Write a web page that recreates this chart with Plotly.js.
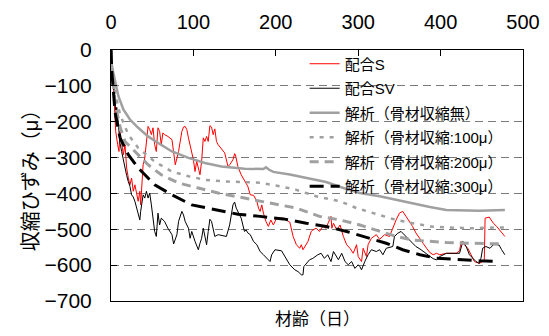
<!DOCTYPE html>
<html><head><meta charset="utf-8">
<script src="https://cdn.plot.ly/plotly-3.0.1.min.js"></script>
<style>html,body{margin:0;padding:0;background:#fff;}#chart{width:549px;height:336px;}</style>
</head><body><div id="chart"></div>
<script>
// 配合S (measured)
const sDay = [0,0.5,1.6,2.8,4,5.7,8.1,9.7,10.9,12.9,15,17,19,21,23,25,27,29,31,33,35,36,38,39,41,43,45,47,49,51,53,55,57,59,61,63,65,69,74,78,80,82,86,88,90,92,94,98,100,102,104,106,108,110,112,114,116,118,120,122,124,126,128,130,138,142,144,148,150,151,154,158,162,166,169,173,177,179,181,183,185,188,191,194,197,201,209,217,221,225,229,231,233,235,239,243,245,249,253,257,261,264,267,268,270,274,278,282,286,290,294,298,300,304,306,310,312,316,322,326,332,338,342,346,350,354,358,362,366,370,375,379,383,387,391,395,399,407,419,423,425,427,429,433,437,441,447,451,453,454,459,464,468,472,476,478];
const sVal = [0,-10,-40,-96,-171,-227,-264,-283,-227,-264,-292,-264,-329,-357,-376,-357,-394,-376,-404,-422,-394,-432,-357,-320,-301,-264,-213,-222,-236,-217,-264,-283,-217,-227,-264,-231,-236,-241,-250,-320,-301,-283,-227,-215,-213,-222,-245,-283,-306,-339,-310,-329,-348,-310,-245,-255,-241,-255,-211,-215,-236,-220,-255,-264,-287,-325,-320,-306,-289,-292,-325,-348,-366,-380,-404,-405,-422,-441,-450,-432,-455,-478,-492,-474,-488,-469,-469,-480,-520,-543,-553,-543,-557,-548,-534,-506,-502,-497,-506,-492,-497,-480,-464,-497,-483,-502,-488,-520,-543,-553,-567,-543,-576,-590,-553,-576,-543,-525,-515,-528,-515,-520,-495,-474,-455,-450,-464,-478,-492,-510,-525,-540,-553,-565,-571,-567,-571,-567,-567,-560,-534,-539,-543,-553,-571,-590,-595,-590,-590,-469,-466,-483,-492,-502,-515,-520];
// 配合SV (measured)
const svDay = [0,1,2.8,4.8,6,7,8.9,11,12.9,15,17,19,21,23,25,27,29,31,33,35,36,38,39,41,43,45,47,49,51,53,55,57,59,61,65,69,74,76,80,82,86,88,90,94,96,98,102,106,108,110,112,114,116,118,120,122,124,126,130,140,144,148,150,152,156,158,160,162,164,166,169,173,177,181,185,189,193,195,199,207,217,223,227,231,233,234,237,239,241,245,251,255,259,263,267,270,272,276,280,284,288,292,296,300,302,304,308,312,316,322,326,330,334,342,344,348,352,356,362,370,375,379,383,387,391,395,399,407,423,427,431,435,439,443,447,449,451,455,460,464,468,471,474,478];
const svVal = [0,-30,-78,-152,-180,-160,-217,-260,-283,-310,-329,-350,-367,-380,-404,-410,-422,-440,-450,-474,-450,-422,-404,-413,-394,-413,-399,-432,-469,-506,-520,-455,-488,-469,-478,-497,-515,-541,-515,-478,-450,-460,-478,-497,-525,-506,-534,-557,-539,-525,-497,-525,-543,-506,-472,-478,-497,-520,-515,-520,-488,-432,-424,-441,-460,-469,-488,-506,-502,-510,-515,-534,-543,-562,-571,-581,-590,-571,-557,-560,-599,-613,-618,-627,-627,-604,-595,-590,-585,-581,-571,-567,-581,-571,-590,-562,-571,-585,-567,-590,-599,-590,-609,-599,-604,-613,-590,-571,-557,-562,-557,-571,-553,-548,-520,-511,-506,-515,-530,-548,-555,-562,-570,-576,-582,-585,-576,-567,-567,-534,-548,-571,-581,-590,-595,-581,-553,-548,-553,-543,-543,-544,-557,-571];
// 解析 curves
const a0Day = [0,1,5,9,15,23,33,45,57,74,94,114,134,162,185,188,192,197,217,237,261,282,302,326,346,366,387,407,431,447,478];
const a0Val = [0,-45,-87,-129,-166,-194,-217,-241,-259,-283,-301,-315,-325,-331,-332,-327,-334,-340,-347,-357,-368,-385,-399,-408,-418,-427,-438,-446,-448,-448,-446];
const a100Day = [0,1,5,11,21,33,53,74,94,114,142,162,181,205,225,249,278,298,326,346,366,387,407,439,467,478];
const a100Val = [0,-40,-120,-180,-236,-273,-311,-339,-352,-362,-367,-368,-370,-380,-390,-408,-422,-441,-460,-474,-483,-492,-495,-497,-495,-495];
const a200Day = [0,1,5,11,17,29,45,61,82,106,130,162,181,205,225,253,278,302,326,346,366,387,407,439,467,478];
const a200Val = [0,-50,-150,-215,-255,-283,-320,-348,-371,-385,-399,-413,-422,-432,-441,-464,-474,-488,-506,-520,-530,-534,-537,-539,-541,-541];
const a300Day = [0,1,5,11,21,33,53,74,98,126,154,181,209,237,261,286,306,326,334,354,375,395,407,447,470];
const a300Val = [0,-60,-175,-245,-292,-329,-376,-404,-432,-446,-458,-464,-471,-483,-492,-506,-520,-534,-539,-557,-571,-581,-582,-588,-590];

const names = ['配合S','配合SV','解析（骨材収縮無）','解析（骨材収縮:100μ）','解析（骨材収縮:200μ）','解析（骨材収縮:300μ）'];
const FONT = 'Liberation Sans, Arial, Noto Sans CJK JP, sans-serif';

const traces = [
  {x:sDay, y:sVal, name:names[0], line:{color:'#ff0000', width:1}},
  {x:svDay, y:svVal, name:names[1], line:{color:'#000000', width:1}},
  {x:a0Day, y:a0Val, name:names[2], line:{color:'#a0a0a0', width:2.5}},
  {x:a100Day, y:a100Val, name:names[3], line:{color:'#a0a0a0', width:2.5, dash:'4px,6px'}},
  {x:a200Day, y:a200Val, name:names[4], line:{color:'#a0a0a0', width:3, dash:'9px,6px'}},
  {x:a300Day, y:a300Val, name:names[5], line:{color:'#000000', width:3, dash:'14px,7px'}}
].map((t,i)=>Object.assign(t,{type:'scatter', mode:'lines', legendgroup:'g'+i}));

const layout = {
  width:549, height:336,
  margin:{l:111, r:26, t:50, b:35},
  paper_bgcolor:'#fff', plot_bgcolor:'#fff',
  font:{family:FONT, color:'#000'},
  showlegend:true,
  xaxis:{side:'top', range:[0,500], dtick:100, tick0:0, ticks:'inside', ticklen:6, tickcolor:'#000',
         showgrid:false, zeroline:false, showline:true, mirror:true, linecolor:'#000', linewidth:1,
         tickfont:{size:20, family:FONT}, ticklabelstandoff:12},
  yaxis:{range:[-700,0], dtick:100, tick0:0, ticks:'inside', ticklen:6, tickcolor:'#000',
         showgrid:true, gridcolor:'#7a7a7a', griddash:'8px,5px', gridwidth:1,
         zeroline:false, showline:true, mirror:true, linecolor:'#000', linewidth:1,
         tickfont:{size:21, family:FONT}, ticklabelstandoff:14,
         title:{text:'収縮ひずみ（μ）', font:{size:20, family:FONT}, standoff:0}},
  legend:{x:0.47, y:1.01, xanchor:'left', yanchor:'top', bgcolor:'rgba(0,0,0,0)', borderwidth:0,
          font:{size:15, family:FONT}, tracegroupgap:2, itemwidth:30},
  shapes:[{type:'rect', layer:'between', xref:'paper', yref:'paper',
           x0:(303-111)/412, x1:(509-111)/412, y0:(301-197)/250.5, y1:(301-54)/250.5,
           fillcolor:'#ffffff', line:{width:0}}],
  annotations:[{text:'材齢（日）', xref:'paper', yref:'paper', x:0.5, y:-0.072, xanchor:'center', yanchor:'middle',
                showarrow:false, font:{size:17, family:FONT}}]
};
Plotly.newPlot('chart', traces, layout, {displayModeBar:false, staticPlot:true});
</script></body></html>
